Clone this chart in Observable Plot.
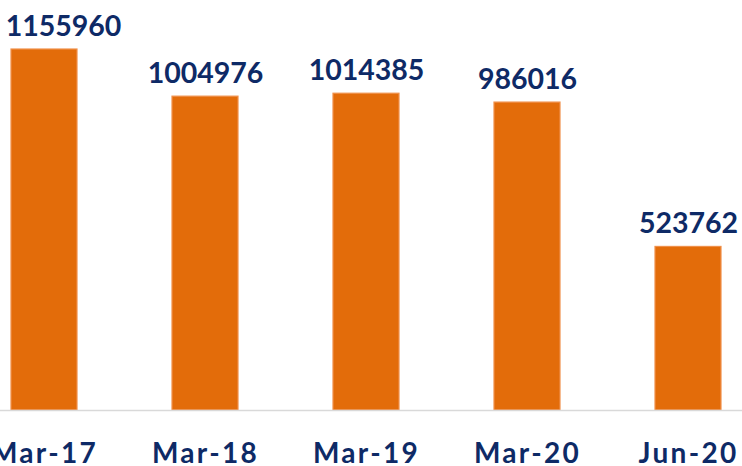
<!DOCTYPE html>
<html><head><meta charset="utf-8">
<script src="https://cdn.jsdelivr.net/npm/d3@7"></script>
<script src="https://cdn.jsdelivr.net/npm/@observablehq/plot@0.6"></script>
<style>
html,body{margin:0;padding:0;background:#fff;}
svg{display:block;}
.xlab text{letter-spacing:2.3px;}
</style>
</head><body>
<div id="chart"></div>
<script>
const categories = ["Mar-17","Mar-18","Mar-19","Mar-20","Jun-20"];
const values = [1155960, 1004976, 1014385, 986016, 523762];
const data = categories.map((c,i)=>({cat:c, value:values[i], first: i === 0}));
const navy = "#0e2a66";
const font = "Lato, 'Noto Sans', sans-serif";
const labelOpts = {x: "cat", y: "value", text: d => String(d.value), lineAnchor: "bottom", dy: -14,
  fontSize: 28.5, fontWeight: "bold", fill: navy};
const chart = Plot.plot({
  width: 742, height: 466,
  marginTop: 0, marginBottom: 56, marginLeft: 0, marginRight: 0,
  style: {fontFamily: font, background: "#fff"},
  x: {domain: categories, range: [-36.5, 768.5], paddingInner: 0.59, paddingOuter: 0.295, label: null},
  y: {domain: [0, 1312880], axis: null},
  marks: [
    Plot.barY(data, {x: "cat", y: "value", fill: "#e36c0a", stroke: "#f0904a", strokeWidth: 1.2}),
    Plot.ruleY([0], {stroke: "#d9d9d9", strokeWidth: 1.5}),
    Plot.text(data.filter(d => !d.first), labelOpts),
    Plot.text(data.filter(d => d.first), {...labelOpts, dx: 19}),
    Plot.axisX({tickSize: 0, tickPadding: 33, fontSize: 28, fontWeight: "bold", fill: navy, label: null, className: "xlab"})
  ]
});
document.getElementById("chart").append(chart);
</script>
</body></html>
